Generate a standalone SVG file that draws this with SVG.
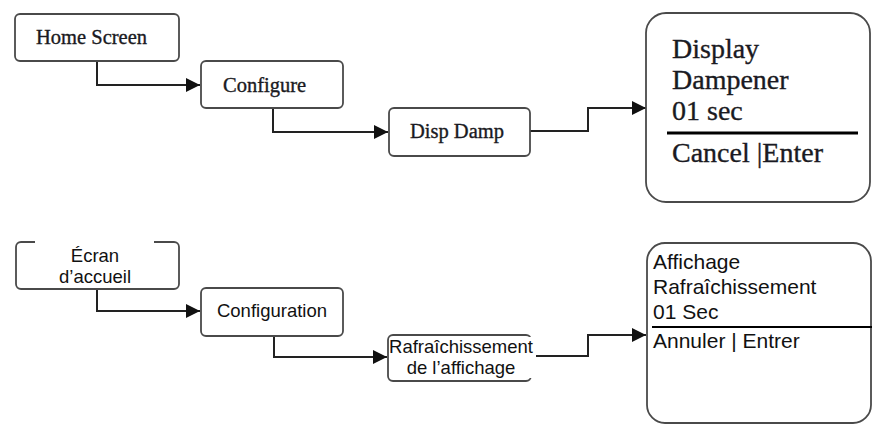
<svg xmlns="http://www.w3.org/2000/svg" width="872" height="424" viewBox="0 0 872 424">
<style>
.box{fill:#fff;stroke:#4a4a4a;stroke-width:1.8}
.bg{fill:#fff;stroke:none}
.conn{fill:none;stroke:#222;stroke-width:2}
.sep{stroke:#000;fill:none}
.serif{font-family:"Liberation Serif","Times New Roman",serif;fill:#1a1a22;stroke:#1a1a22;stroke-width:0.35}
.sans{font-family:"Liberation Sans",Arial,sans-serif;fill:#111}
.s20{font-size:20.5px}
.s28{font-size:28px}
.a18{font-size:18.5px}
.a21{font-size:21px}
</style>
<defs>
<marker id="arr" markerUnits="userSpaceOnUse" markerWidth="15" markerHeight="14" refX="14" refY="7" orient="auto">
<path d="M0,0 L14,7 L0,14 z" fill="#111"/>
</marker>
</defs>
<rect width="872" height="424" fill="#fff"/>
<g id="connectors">
<path class="conn" d="M97,61 V85 H200" marker-end="url(#arr)"/>
<path class="conn" d="M273,108 V132 H388" marker-end="url(#arr)"/>
<path class="conn" d="M530,131 H588 V108 H646" marker-end="url(#arr)"/>
<path class="conn" d="M97,289 V311 H200" marker-end="url(#arr)"/>
<path class="conn" d="M274,336 V357 H387" marker-end="url(#arr)"/>
<path class="conn" d="M536,356 H588 V335 H646" marker-end="url(#arr)"/>
</g>
<g id="home-screen">
<rect class="box" x="15" y="14" width="164" height="47" rx="5"/>
<text class="serif s20" x="36" y="44">Home Screen</text>
</g>
<g id="configure">
<rect class="box" x="201" y="61" width="142" height="47" rx="5"/>
<text class="serif s20" x="223" y="92">Configure</text>
</g>
<g id="disp-damp">
<rect class="box" x="389" y="108" width="141" height="48" rx="5"/>
<text class="serif s20" x="410" y="138">Disp Damp</text>
</g>
<g id="display-dampener">
<rect class="box" x="646" y="13" width="224" height="189" rx="20"/>
<text class="serif s28" x="672" y="58">Display</text>
<text class="serif s28" x="672" y="89">Dampener</text>
<text class="serif s28" x="672" y="120">01 sec</text>
<line class="sep" x1="667" y1="133" x2="858" y2="133" stroke-width="3"/>
<text class="serif s28" x="672" y="162">Cancel |Enter</text>
</g>
<g id="ecran-accueil">
<rect class="box" x="16" y="242" width="163" height="47" rx="5"/>
<rect class="bg" x="35" y="239" width="119" height="45"/>
<text class="sans a18" x="95" y="262" text-anchor="middle">Écran</text>
<text class="sans a18" x="95" y="283" text-anchor="middle">d’accueil</text>
</g>
<g id="configuration">
<rect class="box" x="201" y="288" width="142" height="48" rx="5"/>
<text class="sans a18" x="272" y="317" text-anchor="middle">Configuration</text>
</g>
<g id="rafraichissement-affichage">
<rect class="box" x="388" y="335" width="143" height="46" rx="5"/>
<rect class="bg" x="390" y="337" width="146" height="41"/>
<text class="sans a18" x="461" y="353" text-anchor="middle">Rafraîchissement</text>
<text class="sans a18" x="461" y="374" text-anchor="middle">de l’affichage</text>
</g>
<g id="affichage-rafraichissement">
<rect class="box" x="647" y="243" width="224" height="180" rx="18"/>
<text class="sans a21" x="653" y="269">Affichage</text>
<text class="sans a21" x="653" y="294">Rafraîchissement</text>
<text class="sans a21" x="653" y="319">01 Sec</text>
<line class="sep" x1="652" y1="327" x2="872" y2="327" stroke-width="2"/>
<text class="sans a21" x="653" y="348">Annuler | Entrer</text>
</g>
</svg>
